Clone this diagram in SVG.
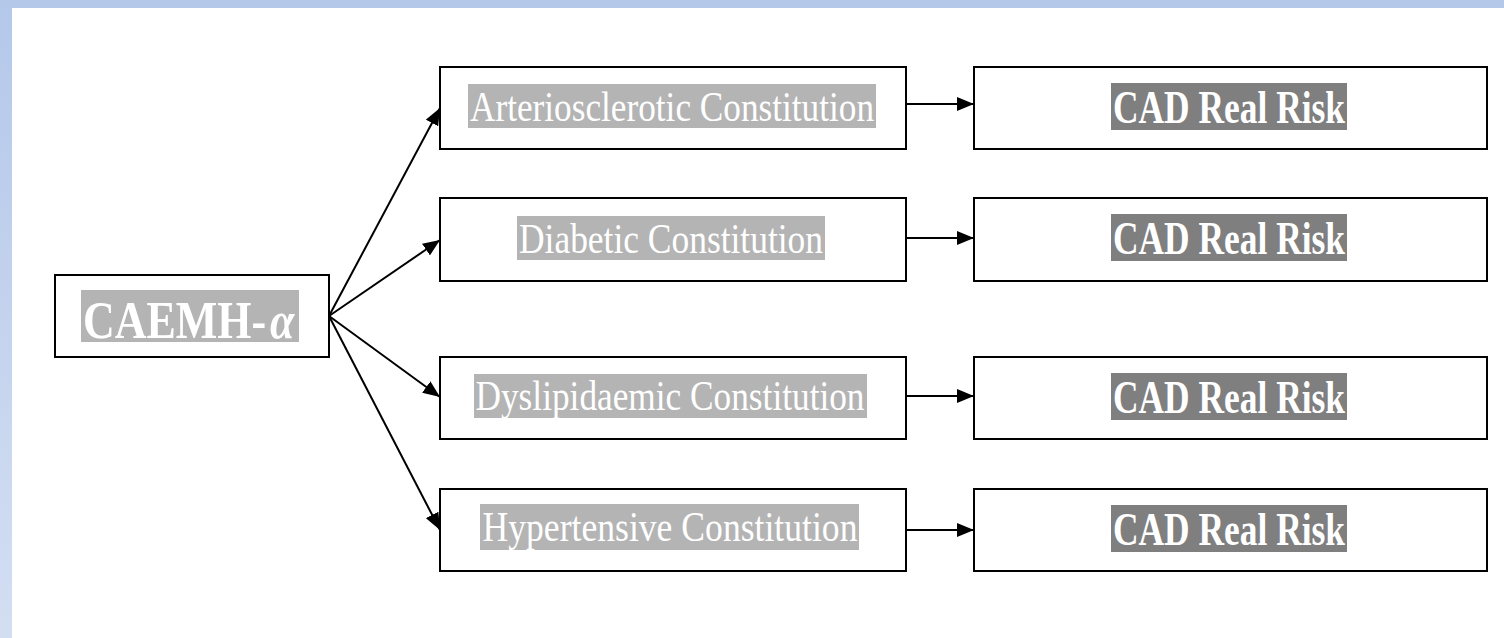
<svg xmlns="http://www.w3.org/2000/svg" width="1504" height="638" viewBox="0 0 1504 638">
<defs>
<linearGradient id="lg" x1="0" y1="0" x2="0" y2="1"><stop offset="0" stop-color="#b4c8ea"/><stop offset="1" stop-color="#d3def2"/></linearGradient>
<marker id="ah" markerWidth="17" markerHeight="14" refX="17" refY="7" orient="auto" markerUnits="userSpaceOnUse"><path d="M0,0 L17,7 L0,14 Z" fill="#000"/></marker>
<style>
.box{fill:#fff;stroke:#000;stroke-width:2}
.lbl{font-family:"Liberation Serif",serif;font-size:36px;fill:#fff}
.mid{fill:#b4b4b4}
.risk{fill:#7f7f7f}
.bold{font-weight:bold;font-size:38px}
.big{font-size:44px}
.con{stroke:#000;stroke-width:2;fill:none;marker-end:url(#ah)}
</style>
</defs>
<rect x="0" y="0" width="1504" height="638" fill="#fff"/>
<rect x="0" y="0" width="12" height="638" fill="url(#lg)"/>
<rect x="0" y="0" width="1504" height="8" fill="#b4c8ea"/>
<g id="n0"><rect class="box" x="55" y="275" width="274" height="82"/><rect class="mid" x="81" y="290" width="218" height="52"/><text class="lbl bold big" transform="translate(83,338) scale(1,1.2)" x="0" y="0">CAEMH-</text><text class="lbl bold big" transform="translate(270,338) scale(1,1.2)" x="0" y="0" font-style="italic">α</text></g>
<g id="n1"><rect class="box" x="440" y="67" width="466" height="82"/><rect class="mid" x="468" y="84" width="408" height="44"/><text class="lbl" transform="translate(672,121) scale(1,1.18)" x="0" y="0" text-anchor="middle" textLength="404" lengthAdjust="spacingAndGlyphs">Arteriosclerotic Constitution</text></g>
<g id="n2"><rect class="box" x="440" y="198" width="466" height="83"/><rect class="mid" x="517" y="216" width="308" height="44"/><text class="lbl" transform="translate(671,253) scale(1,1.18)" x="0" y="0" text-anchor="middle" textLength="304" lengthAdjust="spacingAndGlyphs">Diabetic Constitution</text></g>
<g id="n3"><rect class="box" x="440" y="357" width="466" height="82"/><rect class="mid" x="474" y="374" width="393" height="44"/><text class="lbl" transform="translate(670,410) scale(1,1.18)" x="0" y="0" text-anchor="middle" textLength="389" lengthAdjust="spacingAndGlyphs">Dyslipidaemic Constitution</text></g>
<g id="n4"><rect class="box" x="440" y="489" width="466" height="82"/><rect class="mid" x="480" y="504" width="379" height="46"/><text class="lbl" transform="translate(670,541) scale(1,1.18)" x="0" y="0" text-anchor="middle" textLength="375" lengthAdjust="spacingAndGlyphs">Hypertensive Constitution</text></g>
<g id="r1"><rect class="box" x="974" y="67" width="513" height="82"/><rect class="risk" x="1111" y="83" width="236" height="47"/><text class="lbl bold" transform="translate(1229,123) scale(1,1.2)" x="0" y="0" text-anchor="middle" textLength="232" lengthAdjust="spacingAndGlyphs">CAD Real Risk</text></g>
<g id="r2"><rect class="box" x="974" y="198" width="513" height="83"/><rect class="risk" x="1111" y="214" width="236" height="47"/><text class="lbl bold" transform="translate(1229,254) scale(1,1.2)" x="0" y="0" text-anchor="middle" textLength="232" lengthAdjust="spacingAndGlyphs">CAD Real Risk</text></g>
<g id="r3"><rect class="box" x="974" y="357" width="513" height="82"/><rect class="risk" x="1111" y="373" width="236" height="47"/><text class="lbl bold" transform="translate(1229,413) scale(1,1.2)" x="0" y="0" text-anchor="middle" textLength="232" lengthAdjust="spacingAndGlyphs">CAD Real Risk</text></g>
<g id="r4"><rect class="box" x="974" y="489" width="513" height="82"/><rect class="risk" x="1111" y="505" width="236" height="47"/><text class="lbl bold" transform="translate(1229,545) scale(1,1.2)" x="0" y="0" text-anchor="middle" textLength="232" lengthAdjust="spacingAndGlyphs">CAD Real Risk</text></g>
<g id="connectors">
<line class="con" x1="329" y1="316" x2="440" y2="108"/>
<line class="con" x1="329" y1="316" x2="440" y2="240"/>
<line class="con" x1="329" y1="316" x2="440" y2="397"/>
<line class="con" x1="329" y1="316" x2="440" y2="530"/>
<line class="con" x1="906" y1="104" x2="974" y2="104"/>
<line class="con" x1="906" y1="238" x2="974" y2="238"/>
<line class="con" x1="906" y1="396" x2="974" y2="396"/>
<line class="con" x1="906" y1="530" x2="974" y2="530"/>
</g>
</svg>
